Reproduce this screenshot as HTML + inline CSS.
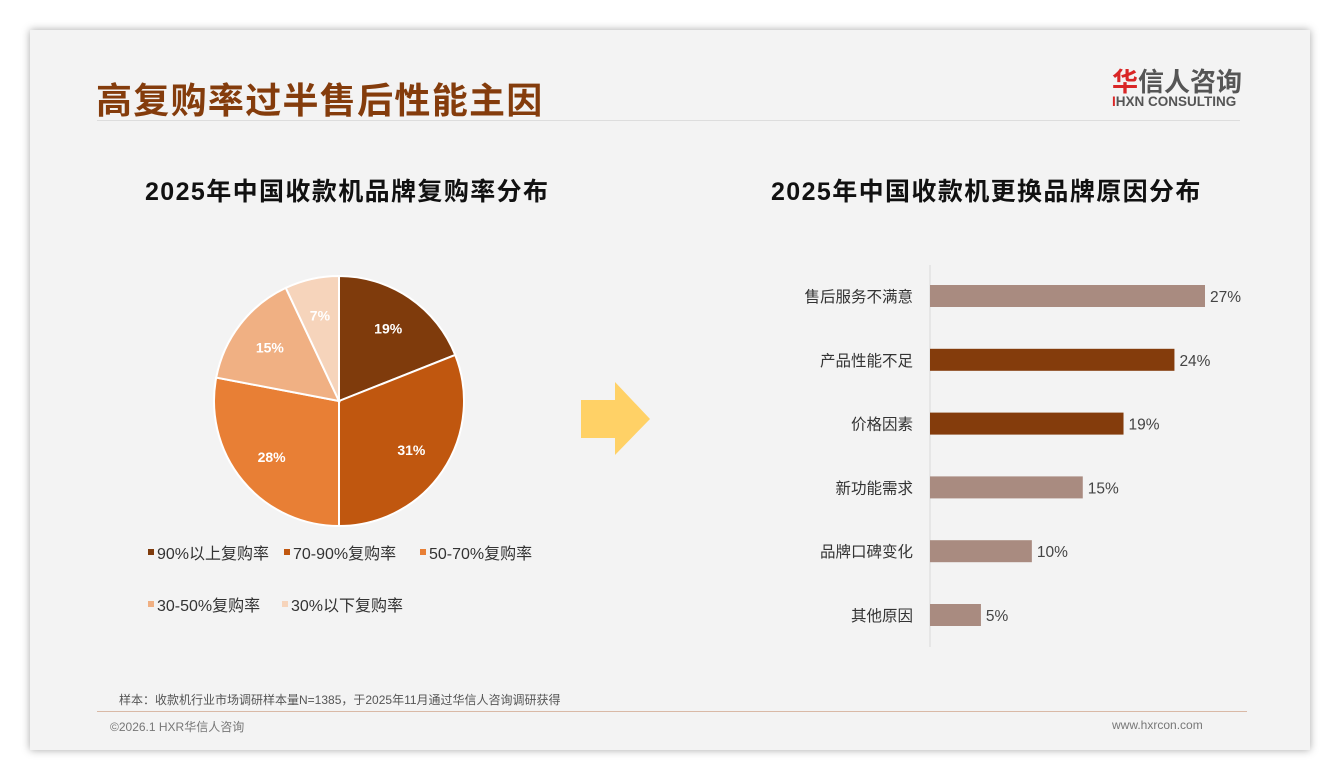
<!DOCTYPE html>
<html><head><meta charset="utf-8"><style>
body{margin:0;width:1340px;height:780px;background:#fff;font-family:"Liberation Sans","Noto Sans CJK SC",sans-serif;position:relative;overflow:hidden}
.slide{position:absolute;left:30px;top:30px;width:1280px;height:720px;background:#f3f3f3;box-shadow:0 0 8px rgba(0,0,0,.35)}
.abs{position:absolute;white-space:nowrap}
</style></head><body>
<div class="slide"></div>
<div class="abs" style="left:96px;top:72px;font-size:36px;font-weight:bold;color:#843c0c;letter-spacing:1.3px">高复购率过半售后性能主因</div>
<div class="abs" style="left:1112px;top:62px;font-size:26px;font-weight:bold;color:#555"><span style="color:#d92626">华</span>信人咨询</div>
<div class="abs" style="left:1112px;top:94px;font-size:13.5px;font-weight:bold;color:#555"><span style="color:#d92626">I</span>HXN CONSULTING</div>
<div class="abs" style="left:97px;top:120px;width:1143px;height:1px;background:#ddd"></div>
<div class="abs" style="left:145px;top:172px;font-size:25px;font-weight:bold;color:#111;letter-spacing:1.4px">2025年中国收款机品牌复购率分布</div>
<div class="abs" style="left:771px;top:172px;font-size:25px;font-weight:bold;color:#111;letter-spacing:1.4px">2025年中国收款机更换品牌原因分布</div>
<svg class="abs" style="left:0;top:0" width="1340" height="780" id="chart">
<polygon points="581,400 615,400 615,382 650,419 615,455 615,438 581,438" fill="#ffd166"/>
</svg>
<div class="abs" style="left:119px;top:691px;font-size:12px;color:#555">样本：收款机行业市场调研样本量N=1385，于2025年11月通过华信人咨询调研获得</div>
<div class="abs" style="left:97px;top:711px;width:1150px;height:1px;background:#d9b9a6"></div>
<div class="abs" style="left:110px;top:718px;font-size:12px;color:#777">©2026.1 HXR华信人咨询</div>
<div class="abs" style="left:1112px;top:718px;font-size:12px;color:#777">www.hxrcon.com</div>
<script>
const pieLabels=["90%以上复购率","70-90%复购率","50-70%复购率","30-50%复购率","30%以下复购率"];
const pieValues=[19,31,28,15,7];
const pieColors=["#7f3b0c","#c0570f","#e87f35","#f0b083","#f6d4bb"];
const barCats=["售后服务不满意","产品性能不足","价格因素","新功能需求","品牌口碑变化","其他原因"];
const barValues=[27,24,19,15,10,5];
const barColors=["#a98b80","#843c0c","#843c0c","#a98b80","#a98b80","#a98b80"];
const NS="http://www.w3.org/2000/svg";
const svg=document.getElementById('chart');
function mk(t,a){const e=document.createElementNS(NS,t);for(const k in a)e.setAttribute(k,a[k]);svg.appendChild(e);return e;}
const cx=339,cy=401,r=125;
const tot=pieValues.reduce((a,b)=>a+b,0);
let ang=-Math.PI/2;
pieValues.forEach((v,i)=>{
  const a2=ang+v/tot*2*Math.PI;
  const x1=cx+r*Math.cos(ang),y1=cy+r*Math.sin(ang),x2=cx+r*Math.cos(a2),y2=cy+r*Math.sin(a2);
  const p=mk('path',{d:`M${cx},${cy}L${x1},${y1}A${r},${r} 0 ${a2-ang>Math.PI?1:0} 1 ${x2},${y2}Z`,fill:pieColors[i],stroke:'#fff','stroke-width':2});
  
  
  const m=(ang+a2)/2,lr=r*0.7;
  const t=mk('text',{x:cx+lr*Math.cos(m),y:cy+lr*Math.sin(m)+5,'text-anchor':'middle','font-size':14,'font-weight':'bold',fill:'#fff'});
  t.textContent=v+'%';
  
  
  ang=a2;
});
const legPos=[[148,553],[284,553],[420,553],[148,605],[282,605]];
pieLabels.forEach((l,i)=>{
  const [x,y]=legPos[i];
  const s=mk('rect',{x:x,y:y-4,width:6,height:6,fill:pieColors[i]});
  
  
  const t=mk('text',{x:x+9,y:y+6,'font-size':16,fill:'#333'});
  t.textContent=l;
  
  
});
const x0=930,pxPer=275/27,y0=296,step=63.8,bh=22;
const ax=mk('line',{x1:x0,y1:265,x2:x0,y2:647,stroke:'#d9d9d9'});


barCats.forEach((c,i)=>{
  const y=y0+i*step;
  const w=barValues[i]*pxPer;
  const b=mk('rect',{x:x0,y:y-bh/2,width:w,height:bh,fill:barColors[i]});
  
  
  const t=mk('text',{x:x0-17,y:y+6,'text-anchor':'end','font-size':15.5,fill:'#333'});
  t.textContent=c;
  
  
  const v=mk('text',{x:x0+w+5,y:y+6,'font-size':15.5,fill:'#444'});
  v.textContent=barValues[i]+'%';
  
  
});
</script>
</body></html>
